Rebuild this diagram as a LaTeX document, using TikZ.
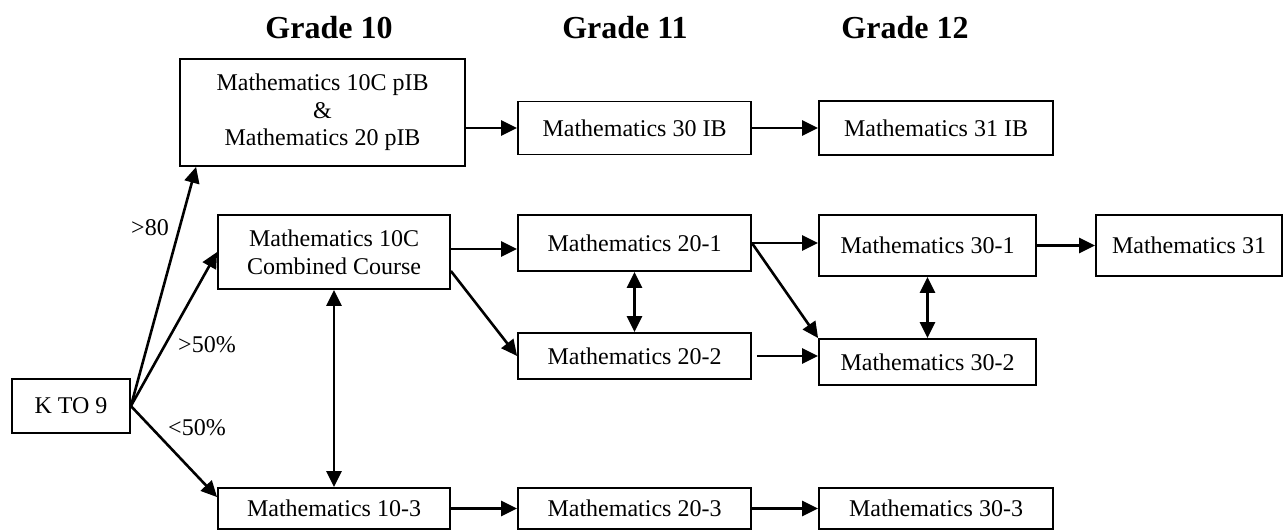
\documentclass[tikz,border=0pt]{standalone}
\usepackage{fontspec}
\setmainfont{Liberation Serif}
\usetikzlibrary{arrows.meta,positioning}

\begin{document}
\begin{tikzpicture}[x=0.5pt,y=-0.5pt,
  course/.style={draw,line width=0.9pt,inner sep=0pt,align=center,
    font=\fontsize{12}{13.8}\selectfont},
  grade/.style={anchor=base,font=\fontsize{16}{19}\selectfont\bfseries},
  cut/.style={font=\fontsize{12}{14}\selectfont},
  flow/.style={-{Triangle[length=8pt,width=7.5pt]},line width=1.3pt},
  both/.style={{Triangle[length=8pt,width=7.5pt]}-{Triangle[length=8pt,width=7.5pt]},line width=1.3pt}]
\useasboundingbox (0,0) rectangle (1285,531);
% grade headings
\node[grade] (g10) at (329,38) {Grade 10};
\node[grade] (g11) at (625,38) {Grade 11};
\node[grade] (g12) at (905,38) {Grade 12};
% courses
\node[course,minimum width=59pt,minimum height=27pt] (k9) at (71,406) {K TO 9};
\node[course,minimum width=142.5pt,minimum height=53.5pt] (pib) at (322.5,112.5) {Mathematics 10C pIB\\ \&\\ Mathematics 20 pIB};
\node[course,minimum width=116pt,minimum height=37pt] (c10) at (334,252) {Mathematics 10C\\ Combined Course};
\node[course,minimum width=116pt,minimum height=20.5pt] (m103) at (334,508.5) {Mathematics 10-3};
\node[course,minimum width=116.5pt,minimum height=26.5pt] (m30ib) at (634.5,128) {Mathematics 30 IB};
\node[course,minimum width=116.5pt,minimum height=28pt] (m201) at (634.5,243) {Mathematics 20-1};
\node[course,minimum width=116.5pt,minimum height=23pt] (m202) at (634.5,356) {Mathematics 20-2};
\node[course,minimum width=116.5pt,minimum height=20.5pt] (m203) at (634.5,508.5) {Mathematics 20-3};
\node[course,minimum width=117pt,minimum height=27pt] (m31ib) at (936,128) {Mathematics 31 IB};
\node[course,minimum width=108.5pt,minimum height=30.5pt] (m301) at (927.5,245.5) {Mathematics 30-1};
\node[course,minimum width=108.5pt,minimum height=23pt] (m302) at (927.5,362) {Mathematics 30-2};
\node[course,minimum width=117pt,minimum height=20.5pt] (m303) at (936,508.5) {Mathematics 30-3};
\node[course,minimum width=93pt,minimum height=30.5pt] (m31) at (1189,245.5) {Mathematics 31};
% cut-off labels
\node[cut] (l80) at (150,228) {>80};
\node[cut] (l50a) at (207,345) {>50\%};
\node[cut] (l50b) at (197,428) {<50\%};
% paths
\draw[flow] (k9.east) -- ([xshift=8.5pt]pib.south west);
\draw[flow] (k9.east) -- (c10.west);
\draw[flow] (k9.east) -- ([yshift=-5pt]m103.north west);
\draw[both] (c10.south) -- (m103.north);
\draw[flow] (pib.east |- m30ib.west) -- (m30ib.west);
\draw[flow] (m30ib.east) -- (m31ib.west);
\draw[flow] ([yshift=1.5pt]c10.east) -- ([yshift=1.5pt]c10.east -| m201.west);
\draw[flow] ([yshift=-9.5pt]c10.east) -- (m202.west);
\draw[both] (m201.south) -- (m202.north);
\draw[flow] (m201.east) -- (m201.east -| m301.west);
\draw[flow] (m201.east) -- (m302.north west);
\draw[flow,shorten <=2.5pt] (m202.east) -- (m202.east -| m302.west);
\draw[both] (m301.south) -- (m302.north);
\draw[flow] (m301.east) -- (m31.west);
\draw[flow] (m103.east) -- (m203.west);
\draw[flow] (m203.east) -- (m303.west);
\end{tikzpicture}
\end{document}
